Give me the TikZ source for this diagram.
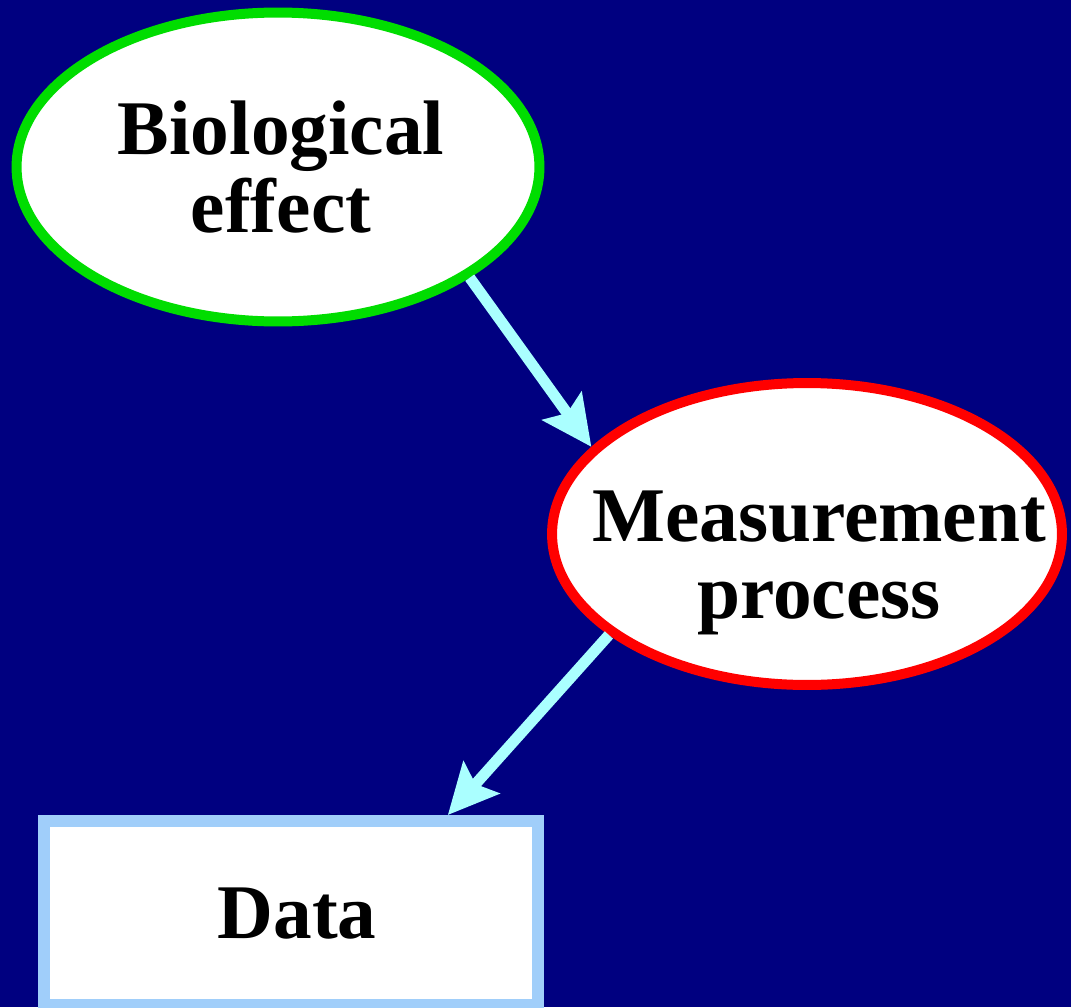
\documentclass[tikz,border=0pt]{standalone}
\usepackage{fontspec}
\setmainfont{Liberation Serif}
\usetikzlibrary{shapes.geometric,arrows.meta}
\usepackage{xcolor}
\definecolor{navy}{RGB}{0,0,128}
\definecolor{effgreen}{RGB}{0,221,0}
\definecolor{arrowcyan}{RGB}{170,255,255}
\definecolor{databorder}{RGB}{160,206,250}

\begin{document}
\begin{tikzpicture}
[x=0.02cm, y=-0.02cm,
% The bubble style is used for the two ellipses
bubble/.style={ellipse, draw, line width=0.2cm, fill=white, inner sep=0pt},
% The caption style is used for the texts in the ellipses
caption/.style={inner sep=0pt, align=center, font=\fontsize{44}{44}\selectfont\bfseries},
% The datum style is used for the data box
datum/.style={rectangle, draw=databorder, line width=0.24cm, fill=white, inner sep=0pt, font=\fontsize{44}{44}\selectfont\bfseries},
% The link style is used for the arrows
link/.style={draw=arrowcyan, line width=0.22cm, -{Stealth[length=1cm, width=0.95cm, inset=0.17cm]}}
]
% Background
\useasboundingbox (0,0) rectangle (1071,1007);
\fill[navy](0,0) rectangle (1071,1007);
% Draw nodes
\node[bubble, draw=effgreen, minimum width=10.46cm, minimum height=6.18cm] (bio) at (278,167) {};
\node[caption] (biotext) at (281,167) {Biological\\effect};
\node[bubble, draw=red, minimum width=10.2cm, minimum height=6.04cm] (meas) at (807,534) {};
\node[caption] (meastext) at (819,563) {Measurement\\process};
\node[datum, minimum width=9.9cm, minimum height=3.68cm] (data) at (291,913) {};
\node[caption] (datatext) at (297,914) {Data};
% Draw arrows
\draw[link](bio.-30) -- (meas.158);
\draw[link](meas.207) -- (data.32);
\end{tikzpicture}
\end{document}
